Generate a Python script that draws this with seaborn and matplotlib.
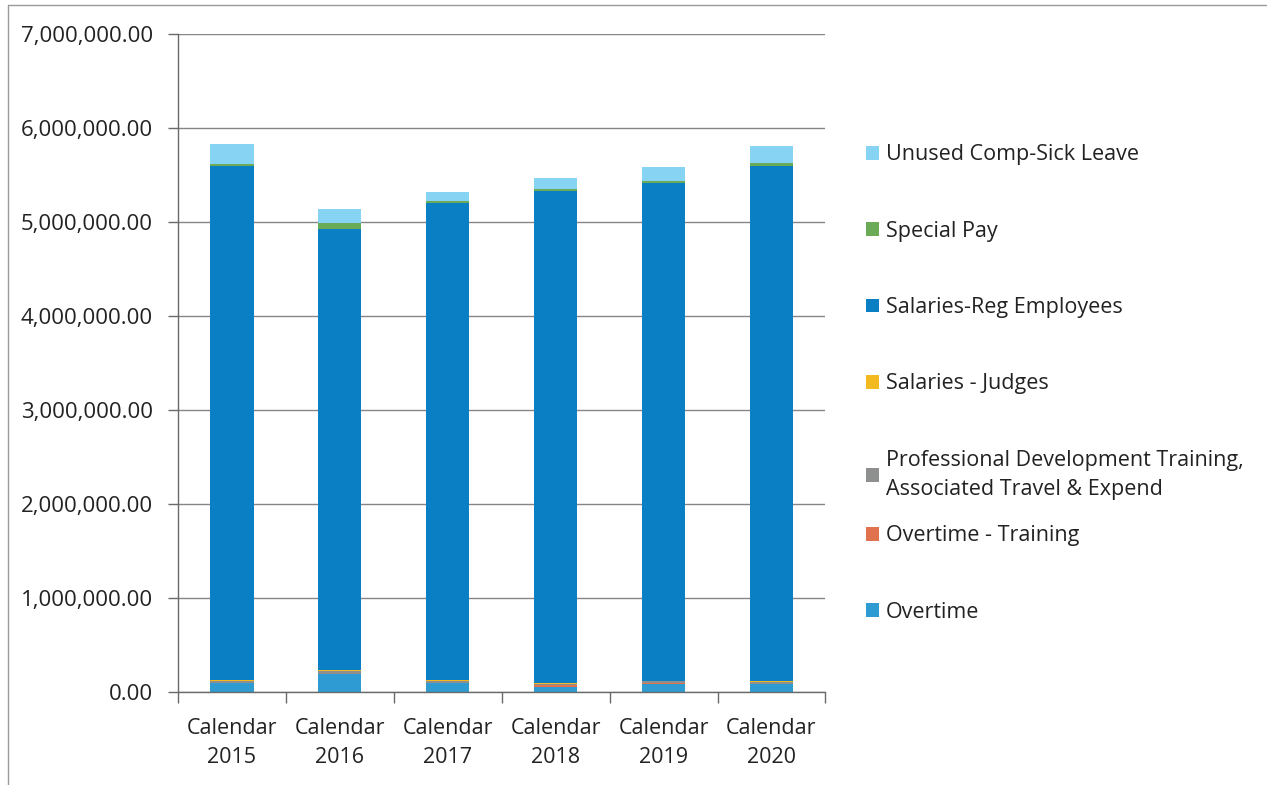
import numpy as np
import pandas as pd
import matplotlib
matplotlib.use("Agg")
import matplotlib.pyplot as plt
import seaborn as sns
from matplotlib.patches import Patch
from matplotlib.ticker import FuncFormatter, FixedLocator
from matplotlib.lines import Line2D

categories = ["Calendar\n2015", "Calendar\n2016", "Calendar\n2017",
              "Calendar\n2018", "Calendar\n2019", "Calendar\n2020"]

overtime = [95000, 190000, 95000, 55000, 90000, 85000]
overtime_training = [5000, 5000, 5000, 15000, 5000, 5000]
prof_dev = [20000, 30000, 20000, 20000, 20000, 20000]
salaries_judges = [10000, 10000, 10000, 5000, 5000, 5000]
salaries_reg = [5466000, 4695000, 5070000, 5240000, 5295000, 5485000]
special_pay = [20000, 60000, 20000, 20000, 25000, 30000]
unused_comp_sick = [210000, 150000, 100000, 115000, 145000, 180000]

series_names = ["Overtime", "Overtime - Training",
                "Professional Development Training,\nAssociated Travel & Expend",
                "Salaries - Judges", "Salaries-Reg Employees", "Special Pay",
                "Unused Comp-Sick Leave"]
series_values = [overtime, overtime_training, prof_dev, salaries_judges,
                 salaries_reg, special_pay, unused_comp_sick]
colors = ["#2F9BD3", "#E0734D", "#8E9090", "#F2BA1F", "#0A7FC4", "#6BAA57", "#86D3F3"]

y_ticks = [0, 1000000, 2000000, 3000000, 4000000, 5000000, 6000000, 7000000]

sns.set_theme(style="white")
plt.rcParams["font.family"] = ["Open Sans", "DejaVu Sans"]

fig = plt.figure(figsize=(12.67, 7.85), dpi=100)
ax = fig.add_axes([0.1405, 0.1185, 0.511, 0.838])

df = pd.DataFrame({name: vals for name, vals in zip(series_names, series_values)})
df["category"] = categories
cum = df[series_names].cumsum(axis=1)

for i in range(len(series_names) - 1, -1, -1):
    tmp = pd.DataFrame({"category": categories, "value": cum[series_names[i]].values})
    sns.barplot(data=tmp, x="category", y="value", color=colors[i], width=0.40,
                saturation=1, ax=ax, edgecolor="none", linewidth=0)

ax.set_ylim(0, 7000000)
ax.set_xlim(-0.5, 5.5)
ax.yaxis.set_major_locator(FixedLocator(y_ticks))
ax.yaxis.set_major_formatter(FuncFormatter(lambda v, p: f"{v:,.2f}"))
ax.grid(axis="y", color="#858585", linewidth=1.0)
ax.set_axisbelow(True)
ax.set_xlabel("")
ax.set_ylabel("")
for s in ["top", "right"]:
    ax.spines[s].set_visible(False)
ax.spines["left"].set_color("#6a6a6a")
ax.spines["bottom"].set_color("#6a6a6a")
ax.spines["left"].set_linewidth(1.0)
ax.spines["bottom"].set_linewidth(1.0)

ax.tick_params(axis="y", which="major", length=7, width=1, color="#6a6a6a",
               labelsize=16, labelcolor="#222222", pad=11, left=True)
ax.tick_params(axis="x", which="major", length=0, labelsize=15.5,
               labelcolor="#222222", pad=19)
for lbl in ax.get_xticklabels():
    lbl.set_linespacing(1.5)
ax.set_xticks(np.arange(-0.5, 6.0, 1.0), minor=True)
ax.tick_params(axis="x", which="minor", length=8, width=1, color="#6a6a6a", bottom=True)

handles = [Patch(facecolor=c, edgecolor="none") for c in colors][::-1]
labels = series_names[::-1]
leg_kw = dict(loc="upper left", frameon=False, fontsize=15.5, labelspacing=2.57,
              handlelength=0.6, handleheight=0.6, handletextpad=0.35,
              labelcolor="#222222")
leg1 = fig.legend(handles[:5], labels[:5], bbox_to_anchor=(0.668, 0.8408), **leg_kw)
for t in leg1.get_texts():
    t.set_linespacing(1.5)
leg2 = fig.legend(handles[5:], labels[5:], bbox_to_anchor=(0.668, 0.3555), **leg_kw)

fig.add_artist(Line2D([0.006, 0.006], [0.0, 0.994], transform=fig.transFigure,
                      color="#9a9a9a", linewidth=1))
fig.add_artist(Line2D([0.006, 1.0], [0.994, 0.994], transform=fig.transFigure,
                      color="#9a9a9a", linewidth=1))

fig.savefig("out.png", dpi=100)
